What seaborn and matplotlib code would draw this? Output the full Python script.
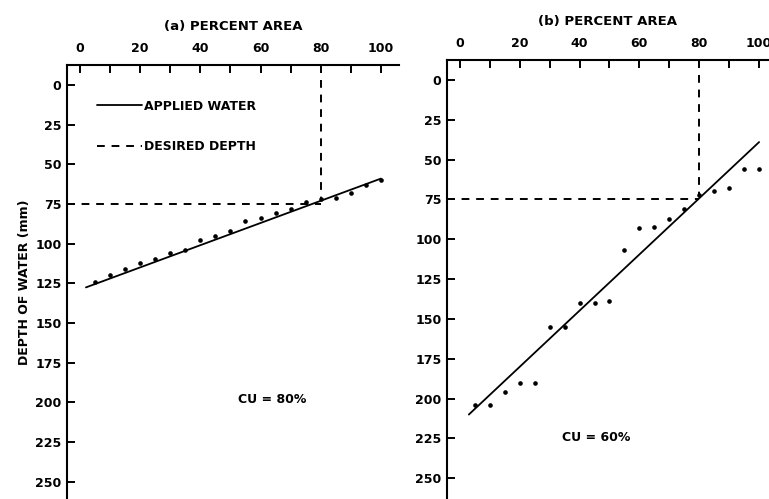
import matplotlib
matplotlib.use("Agg")
import matplotlib.pyplot as plt
from matplotlib.lines import Line2D
import seaborn as sns
import pandas as pd

# ---- data ----
pct_area = [5, 10, 15, 20, 25, 30, 35, 40, 45, 50, 55, 60, 65, 70, 75, 80, 85, 90, 95, 100]
depth_a = [124, 120, 116, 112, 110, 106, 104, 98, 95, 92, 86, 84, 81, 78, 74, 72, 71, 68, 63, 60]
depth_b = [204, 204, 196, 190, 190, 155, 155, 140, 140, 139, 107, 93, 92, 87, 81, 72, 70, 68, 56, 56]
fit_a_x = [2, 100]
fit_a_y = [127.6, 59]
fit_b_x = [3, 100]
fit_b_y = [210, 39]
desired_depth = 75
desired_pct = 80
cu_labels = ["CU = 80%", "CU = 60%"]
panel_titles = ["(a) PERCENT AREA", "(b) PERCENT AREA"]
x_major = [0, 20, 40, 60, 80, 100]
x_minor = [10, 30, 50, 70, 90]
y_major = [0, 25, 50, 75, 100, 125, 150, 175, 200, 225, 250]

sns.set_theme(style="white")
plt.rcParams["font.family"] = ["DejaVu Sans"]
plt.rcParams["font.weight"] = "bold"
plt.rcParams["text.color"] = "black"
plt.rcParams["axes.labelcolor"] = "black"
plt.rcParams["xtick.color"] = "black"
plt.rcParams["ytick.color"] = "black"

fig = plt.figure(figsize=(7.69, 4.99), dpi=100)
W, H = 769, 499
ax_a = fig.add_axes([67 / W, 0, (399 - 67) / W, (499 - 65) / H])
ax_b = fig.add_axes([447 / W, 0, (769 - 447) / W, (499 - 60) / H])

configs = [
    (ax_a, depth_a, fit_a_x, fit_a_y, (-4.3, 106), (261, -12.6), (64, 198), cu_labels[0], panel_titles[0]),
    (ax_b, depth_b, fit_b_x, fit_b_y, (-4.3, 103.3), (263, -12.5), (45.5, 224.5), cu_labels[1], panel_titles[1]),
]

for ax, depth, fx, fy, xl, yl, cupos, cu, title in configs:
    df = pd.DataFrame({"pct": pct_area, "depth": depth})
    fit = pd.DataFrame({"pct": fx, "depth": fy})
    sns.scatterplot(data=df, x="pct", y="depth", ax=ax, color="black", s=11,
                    edgecolor="black", linewidth=0, zorder=3)
    sns.lineplot(data=fit, x="pct", y="depth", ax=ax, color="black", linewidth=1.3)
    ax.plot([xl[0], desired_pct], [desired_depth, desired_depth], color="black",
            linestyle=(0, (4, 3.5)), linewidth=1.4)
    ax.plot([desired_pct, desired_pct], [-3, desired_depth - 3], color="black",
            linestyle=(0, (4, 3.5)), linewidth=1.4)
    ax.set_xlim(*xl)
    ax.set_ylim(*yl)
    ax.xaxis.tick_top()
    ax.xaxis.set_label_position("top")
    ax.set_xticks(x_major)
    ax.set_xticks(x_minor, minor=True)
    ax.set_yticks(y_major)
    ax.tick_params(axis="both", which="both", direction="in", length=6, width=1.4,
                   color="black", labelsize=9, labelcolor="black")
    ax.tick_params(axis="x", which="both", top=True, bottom=False, pad=7)
    ax.tick_params(axis="y", which="both", left=True, right=False, pad=4)
    for lab in ax.get_xticklabels() + ax.get_yticklabels():
        lab.set_fontweight("bold")
    for s in ["right", "bottom"]:
        ax.spines[s].set_visible(False)
    for s in ["top", "left"]:
        ax.spines[s].set_color("black")
        ax.spines[s].set_linewidth(1.5)
    ax.set_xlabel(title, fontsize=9.5, fontweight="bold", labelpad=9, color="black")
    ax.set_ylabel("")
    ax.text(cupos[0], cupos[1], cu, fontsize=9, fontweight="bold", ha="center", va="center",
            color="black")
    ax.set_facecolor("white")

ax_a.set_ylabel("DEPTH OF WATER (mm)", fontsize=9, fontweight="bold", labelpad=3, color="black")

handles = [Line2D([], [], color="black", linewidth=1.3),
           Line2D([], [], color="black", linewidth=1.4, linestyle=(0, (4, 3.5)))]
leg = ax_a.legend(handles, ["APPLIED WATER", "DESIRED DEPTH"], loc="upper left",
                  bbox_to_anchor=(0.09, 0.92), frameon=False, borderpad=0,
                  borderaxespad=0, handlelength=3.6, handletextpad=0.15,
                  labelspacing=2.2, prop={"size": 9, "weight": "bold"})
for t in leg.get_texts():
    t.set_color("black")

fig.savefig("out.png", dpi=100, facecolor="white")
